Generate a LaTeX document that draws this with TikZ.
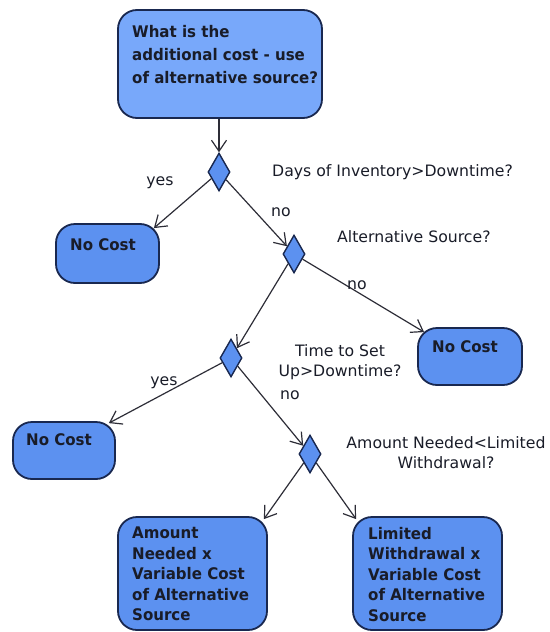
\documentclass[tikz,border=0pt]{standalone}
\usepackage{fontspec}
\setmainfont{DejaVu Sans}
\newfontfamily\boxfont{DejaVu Sans}[FakeStretch=0.94]
\usetikzlibrary{shapes.geometric,arrows.meta,calc}
\definecolor{topfill}{RGB}{120,168,250}
\definecolor{boxfill}{RGB}{92,145,240}
\definecolor{bordercol}{RGB}{25,40,80}
\definecolor{linecol}{RGB}{45,45,55}
\definecolor{txtcol}{RGB}{25,28,40}
\tikzset{
  box/.style={draw=bordercol, line width=1.8pt, fill=boxfill, rounded corners=19pt, inner sep=0pt},
  dia/.style={diamond, draw=bordercol, line width=1.4pt, fill=boxfill, inner sep=0pt, minimum width=22pt, minimum height=38pt, aspect=0.58},
  btxt/.style={anchor=north west, inner sep=0pt, align=left, text=txtcol, font=\boxfont\fontsize{16}{21}\selectfont\bfseries},
  ltxt/.style={inner sep=0pt, text=txtcol, font=\fontsize{15.7}{20}\selectfont},
  arr/.style={draw=linecol, line width=1.2pt, -{Straight Barb[length=11pt,width=15pt,line width=1.2pt]}}
}
\begin{document}
\begin{tikzpicture}[x=1pt,y=-1pt]
\useasboundingbox (0,0) rectangle (549,632);
% boxes
\node[box, fill=topfill, minimum width=204pt, minimum height=108pt] (top) at (220,64) {};
\node[box, minimum width=103pt, minimum height=59pt] (nc1) at (107.5,253.5) {};
\node[box, minimum width=104pt, minimum height=57pt] (nc3) at (470,356.5) {};
\node[box, minimum width=102pt, minimum height=57pt] (nc2) at (64,450.5) {};
\node[box, minimum width=149pt, minimum height=113pt] (bl) at (192.5,573.5) {};
\node[box, minimum width=149pt, minimum height=113pt] (br) at (427.5,573.5) {};
% box texts
\node[btxt, font=\boxfont\fontsize{16}{23}\selectfont\bfseries] (toptxt) at (132,25) {What is the\\additional cost - use\\of alternative source?};
\node[btxt] (nc1txt) at (70,238) {No Cost};
\node[btxt] (nc3txt) at (432,340) {No Cost};
\node[btxt] (nc2txt) at (26,433) {No Cost};
\node[btxt, font=\boxfont\fontsize{16}{20.5}\selectfont\bfseries] (bltxt) at (132,527) {Amount\\Needed x\\Variable Cost\\of Alternative\\Source};
\node[btxt, font=\boxfont\fontsize{16}{20.5}\selectfont\bfseries] (brtxt) at (368,527) {Limited\\Withdrawal x\\Variable Cost\\of Alternative\\Source};
% diamonds
\node[dia] (d1) at (219,172) {};
\node[dia] (d2) at (294,254) {};
\node[dia] (d3) at (231,358) {};
\node[dia] (d4) at (310,454) {};
% tip coordinates
\coordinate (t1) at ($(nc1.north east)+(-6,5)$);
\coordinate (t3) at ($(nc3.north west)+(7,5)$);
\coordinate (t2) at ($(nc2.north east)+(-7,2)$);
\coordinate (tbl) at ($(bl.north east)+(-4,3)$);
\coordinate (tbr) at ($(br.north west)+(4,3)$);
% connectors
\draw[arr] (d1 |- top.south) -- (d1.north);
\draw[arr] (d1) -- (t1);
\draw[arr] (d1) -- (d2);
\draw[arr] (d2) -- (t3);
\draw[arr] (d2) -- (d3);
\draw[arr] (d3) -- (t2);
\draw[arr] (d3) -- (d4);
\draw[arr] (d4) -- (tbl);
\draw[arr] (d4) -- (tbr);
% labels
\node[ltxt, anchor=west] (q1) at (272,172) {Days of Inventory>Downtime?};
\node[ltxt] (yes1) at (160,183) {yes};
\node[ltxt] (no1) at (281,212) {no};
\node[ltxt, anchor=west] (q2) at (337,237) {Alternative Source?};
\node[ltxt] (no2) at (357,285) {no};
\node[ltxt, align=center] (q3) at (340,362) {Time to Set\\Up>Downtime?};
\node[ltxt] (yes2) at (164,383) {yes};
\node[ltxt] (no3) at (290,395) {no};
\node[ltxt, align=center] (q4) at (446,453) {Amount Needed<Limited\\Withdrawal?};
\end{tikzpicture}
\end{document}
